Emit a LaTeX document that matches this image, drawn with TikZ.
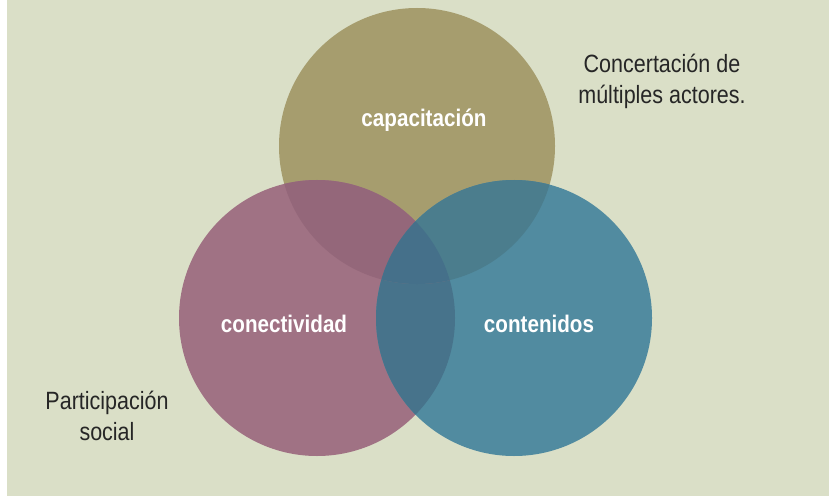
\documentclass[tikz,border=0pt]{standalone}
\usepackage{fontspec}
\setmainfont{Liberation Sans}[FakeStretch=0.86]
\usetikzlibrary{positioning}
\definecolor{fondo}{HTML}{DADFC7}
\definecolor{oliva}{HTML}{A69D6E}
\definecolor{malva}{HTML}{A07284}
\definecolor{azul}{HTML}{518BA0}
\definecolor{olivamalva}{HTML}{94677A}
\definecolor{olivaazul}{HTML}{4B7D8D}
\definecolor{malvaazul}{HTML}{47738B}
\definecolor{centro}{HTML}{45708A}

\begin{document}
\begin{tikzpicture}[
  x=1pt, y=-1pt,
  circulo/.style={circle, minimum size=276pt, inner sep=0pt},
  rotulo/.style={font=\bfseries\fontsize{24}{28}\selectfont, text=white, anchor=base},
  nota/.style={font=\fontsize{25}{31}\selectfont, text=black!85, align=center}
]
\useasboundingbox (0,0) rectangle (829,497);
\fill[white] (0,0) rectangle (829,497);
\fill[fondo] (7,0) rectangle (829,496);

% los tres circulos
\node[circulo, fill=oliva] (cap) at (417,146) {};
\node[circulo, fill=malva] (con) at (317,318) {};
\node[circulo, fill=azul] (cont) at (514,318) {};

% intersecciones
\begin{scope}
  \clip (con.center) circle[radius=138pt];
  \fill[malvaazul] (cont.center) circle[radius=138pt];
\end{scope}
\begin{scope}
  \clip (cap.center) circle[radius=138pt];
  \fill[olivamalva] (con.center) circle[radius=138pt];
  \fill[olivaazul] (cont.center) circle[radius=138pt];
  \clip (con.center) circle[radius=138pt];
  \fill[centro] (cont.center) circle[radius=138pt];
\end{scope}

% rotulos
\node[rotulo] (tcap) at (424,127) {capacitación};
\node[rotulo] (tcon) at (284,332) {conectividad};
\node[rotulo] (tcont) at (539,332) {contenidos};

\node[nota] (concert) at (662,81) {Concertación de\\múltiples actores.};
\node[nota] (partic) at (107,416) {Participación\\social};
\end{tikzpicture}
\end{document}
